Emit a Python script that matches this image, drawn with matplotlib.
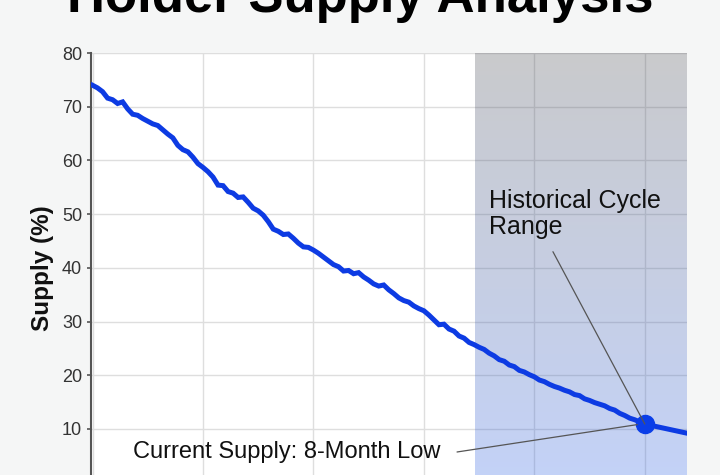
import numpy as np
import matplotlib
matplotlib.use("Agg")
import matplotlib.pyplot as plt

plt.rcParams['font.family'] = ['Liberation Sans', 'DejaVu Sans']

# ---- data ----
supply = [74.0, 73.5, 72.8, 71.6, 71.3, 70.6, 70.9, 69.6, 68.6, 68.4,
          67.8, 67.3, 66.8, 66.5, 65.7, 64.9, 64.2, 62.8, 62.0, 61.6,
          60.6, 59.4, 58.7, 57.9, 56.9, 55.4, 55.3, 54.2, 53.9, 53.1,
          53.2, 52.2, 51.1, 50.6, 49.8, 48.6, 47.2, 46.8, 46.2, 46.3,
          45.5, 44.6, 43.9, 43.8, 43.3, 42.7, 42.0, 41.3, 40.6, 40.2,
          39.4, 39.5, 38.9, 39.1, 38.3, 37.7, 37.0, 36.6, 36.8, 35.9,
          35.2, 34.4, 33.9, 33.6, 32.9, 32.4, 32.0, 31.2, 30.3, 29.4,
          29.5, 28.6, 28.2, 27.3, 26.9, 26.1, 25.7, 25.2, 24.8, 24.1,
          23.6, 22.9, 22.6, 21.9, 21.6, 20.9, 20.6, 20.1, 19.7, 19.1,
          18.8, 18.3, 17.9, 17.6, 17.2, 16.9, 16.4, 16.2, 15.6, 15.3,
          14.9, 14.6, 14.3, 13.8, 13.5, 12.9, 12.5, 12.0, 11.7, 11.3,
          10.9]
days = list(range(len(supply)))
tail_x = [110, 118.4]
tail_y = [10.9, 9.2]
current_x, current_y = 110, 10.9
cycle_start, cycle_end = 76.2, 118.4
yticks = [10, 20, 30, 40, 50, 60, 70, 80]
xgrid = [0, 22, 44, 66, 88, 110]

fig = plt.figure(figsize=(7.2, 4.75), dpi=100, facecolor='#f5f6f6')
ax = fig.add_axes([91/720, -0.016, (687-91)/720, 0.8884 + 0.016])
ax.set_facecolor('white')

ax.set_xlim(-0.3, 118.4)
ax.set_ylim(0, 80)

# gradient shaded historical cycle range
n = 256
top = np.array([75, 77, 85]) / 255
bot = np.array([55, 105, 232]) / 255
t = np.linspace(0, 1, n)[:, None]
rgb = top * (1 - t) + bot * t
rgba = np.concatenate([rgb, np.full((n, 1), 0.30)], axis=1)[:, None, :]
ax.imshow(rgba, extent=[cycle_start, cycle_end, 0, 80], aspect='auto',
          origin='upper', zorder=2, interpolation='bilinear')

ax.plot(days, supply, color='#0d3be3', lw=3.6, zorder=4, solid_joinstyle='miter')
ax.plot(tail_x, tail_y, color='#0d3be3', lw=3.6, zorder=4)
ax.plot([current_x], [current_y], 'o', color='#0a3ee8', ms=13, zorder=5)

# annotations
ax.text(79.0, 50.0, 'Historical Cycle\nRange', fontsize=18, ha='left', va='center',
        color='#111111', linespacing=1.12, zorder=6)
ax.annotate('', xy=(current_x, current_y), xytext=(91.7, 43.0),
            arrowprops=dict(arrowstyle='-', color='#555555', lw=0.9, shrinkA=0, shrinkB=0),
            zorder=6)
ax.text(8.1, 4.6, 'Current Supply: 8-Month Low', fontsize=17, ha='left', va='baseline',
        color='#111111', zorder=6)
ax.annotate('', xy=(current_x - 1.5, current_y - 0.1), xytext=(72.6, 5.7),
            arrowprops=dict(arrowstyle='-', color='#555555', lw=0.9, shrinkA=0, shrinkB=0),
            zorder=6)

# axes styling
ax.set_yticks(yticks)
ax.set_xticks(xgrid)
ax.set_xticklabels([])
ax.tick_params(axis='x', length=0)
ax.tick_params(axis='y', labelsize=13, labelcolor='#333333', color='#555555',
               length=3, width=1.2, pad=3.5)
ax.grid(True, color='#dedede', lw=1.0, zorder=1.5)
for s in ['top', 'right', 'bottom']:
    ax.spines[s].set_visible(False)
ax.spines['left'].set_color('#555555')
ax.spines['left'].set_linewidth(1.5)

fig.text(42/720, 1 - 268/475, 'Supply (%)', rotation=90, fontsize=17.5, fontweight='bold',
         ha='center', va='center', color='#111111')
fig.text(0.5, 1 - 12/475, 'Holder Supply Analysis', fontsize=38, fontweight='bold',
         ha='center', va='baseline', color='#000000')

fig.savefig('out.png', dpi=100, facecolor=fig.get_facecolor())
